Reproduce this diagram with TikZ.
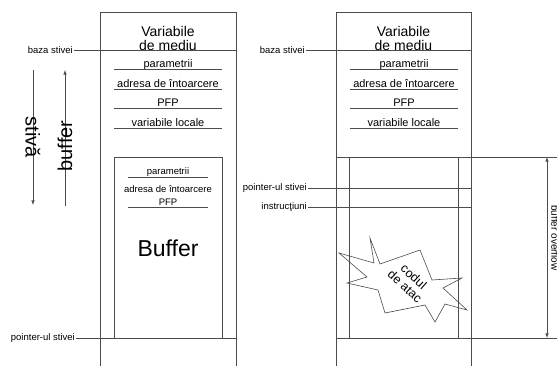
\documentclass[tikz,border=0pt]{standalone}
\usepackage{fontspec}
\setmainfont{Liberation Sans}
\usetikzlibrary{
	positioning,    % posizione relativa dei nodi
	arrows.meta     % punte delle frecce
}
\tikzset{
	linea/.style={draw=black!70, line width=0.6pt},
	voce/.style={anchor=base, inner sep=0pt, font=\fontsize{11}{13}\selectfont},
	vocepic/.style={anchor=base, inner sep=0pt, font=\fontsize{9.5}{11}\selectfont},
	etich/.style={anchor=east, inner sep=1pt, font=\fontsize{9.5}{11}\selectfont},
	titolo/.style={align=center, inner sep=0pt, font=\fontsize{14}{14}\selectfont},
	grande/.style={inner sep=0pt, font=\fontsize{20}{20}\selectfont}
}

\begin{document}
\begin{tikzpicture}[x=1pt, y=-1pt, >=latex]
	\useasboundingbox (0,0) rectangle (557,366);
	% Quote delle righe
	\def\ytop{12}
	\def\ybase{50}
	\def\ybuf{157}
	\def\ysp{338}
	
	% --- Stiva a sinistra ---
	\draw[linea] (100,366) -- (100,\ytop) -- (236,\ytop) -- (236,366);
	\node[titolo] (varA) at (168,38) {Variabile\\de mediu};
	\node[etich] (bazaA) at (74,\ybase) {baza stivei};
	\draw[linea] (bazaA.east) -- (236,\ybase);
	
	% voci del frame
	\foreach \y/\t [count=\i] in {69/parametrii, 89/adresa de întoarcere, 108/PFP, 128/variabile locale}{
		\node[voce] (vA\i) at (168,\y-1.5) {\t};
		\draw[linea] (114,\y) -- (222,\y);
	}
	
	% riquadro del buffer
	\draw[linea] (114,\ysp) -- (114,\ybuf) -- (222,\ybuf) -- (222,\ysp);
	\node[vocepic] (pA) at (168,175) {parametrii};
	\draw[linea] (128,177) -- (208,177);
	\node[vocepic] (rA) at (168,192.5) {adresa de întoarcere};
	\node[vocepic] (fA) at (168,205.5) {PFP};
	\draw[linea] (128,207) -- (208,207);
	\node[grande, font=\fontsize{23}{23}\selectfont] (buf) at (168,248) {Buffer};
	
	\node[etich] (spA) at (76,\ysp) {pointer-ul stivei};
	\draw[linea] (spA.east) -- (236,\ysp);
	
	% --- Frecce verticali ---
	\coordinate (s1) at (33,70);
	\coordinate (s2) at (33,205);
	\draw[linea, ->] (s1) -- (s2);
	\node[grande, rotate=-90] (stiva) at (33,137.5) {stivă};
	\coordinate (b1) at (65,206);
	\coordinate (b2) at (65,70);
	\draw[linea, ->] (b1) -- (b2);
	\node[grande, rotate=90] (buffer) at (65,146) {buffer};
	
	% --- Stiva a destra ---
	\draw[linea] (336,366) -- (336,\ytop) -- (471,\ytop) -- (471,366);
	\node[titolo] (varB) at (403.5,38) {Variabile\\de mediu};
	\node[etich] (bazaB) at (306,\ybase) {baza stivei};
	\draw[linea] (bazaB.east) -- (471,\ybase);
	
	\foreach \y/\t [count=\i] in {69/parametrii, 89/adresa de întoarcere, 108/PFP, 128/variabile locale}{
		\node[voce] (vB\i) at (404,\y-1.5) {\t};
		\draw[linea] (350,\y) -- (458,\y);
	}
	
	% zona sovrascritta
	\draw[linea] (336,\ybuf) -- (557,\ybuf);
	\draw[linea] (336,\ysp) -- (557,\ysp);
	\draw[linea] (349,\ybuf) -- (349,\ysp);
	\draw[linea] (458,\ybuf) -- (458,\ysp);
	\node[etich] (spB) at (308,188) {pointer-ul stivei};
	\draw[linea] (spB.east) -- (471,188);
	\node[etich] (ins) at (308,207) {instrucţiuni};
	\draw[linea] (ins.east) -- (471,207);
	
	% esplosione con il codice
	\draw[linea] (339,253) -- (374,263) -- (370,238) -- (380,264) -- (420,250)
		-- (432,280) -- (462,278) -- (443,288) -- (467,310) -- (445,304)
		-- (435,322) -- (425,305) -- (385,313) -- (378,290) -- (347,283)
		-- (367,277) -- cycle;
	\node[align=center, inner sep=0pt, rotate=-42, font=\fontsize{12.5}{13}\selectfont] (cod) at (409.5,281.5) {codul\\de atac};
	
	% freccia buffer overflow
	\coordinate (o1) at (547,\ybuf);
	\coordinate (o2) at (547,\ysp);
	\draw[linea, <->] (o1) -- (o2);
	\node[rotate=-90, inner sep=0pt, font=\fontsize{10}{12}\selectfont] (ovf) at (555,238) {buffer overflow};
\end{tikzpicture}
\end{document}
